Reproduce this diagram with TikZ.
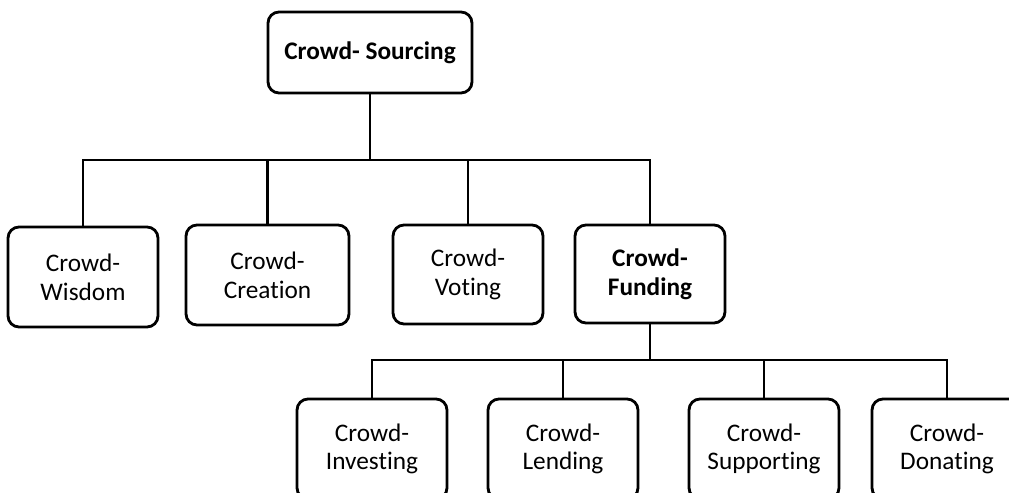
\documentclass[tikz,border=0pt]{standalone}
\usepackage{fontspec}
\setmainfont{Carlito}[Ligatures=NoCommon]
\usepackage{tikz}
\usetikzlibrary{positioning}
\tikzset{
    crowdbox/.style={draw, thick, line width=1.6pt, rounded corners=0.22cm, align=center,
        minimum width=3cm, minimum height=2cm, inner sep=2pt,
        font=\fontsize{14.4}{16.3}\selectfont},
    link/.style={line width=1.6pt}
}

\begin{document}
\begin{tikzpicture}[x=0.02cm, y=-0.02cm]
    \useasboundingbox (0,0) rectangle (1009,493);
    \clip (0,0) rectangle (1009,493);
    % top of the tree
    \node[crowdbox, minimum width=4.08cm, minimum height=1.62cm] (source) at (370,52.5) {\textbf{Crowd- Sourcing}};
    % second row
    \node[crowdbox] (wisdom) at (83,277) {Crowd-\\Wisdom};
    \node[crowdbox, minimum width=3.26cm] (creation) at (267.5,275) {Crowd-\\Creation};
    \node[crowdbox, minimum height=1.98cm] (voting) at (468,274.5) {Crowd-\\Voting};
    \node[crowdbox, minimum height=1.96cm] (funding) at (650,274) {\textbf{Crowd-}\\\textbf{Funding}};
    % third row
    \node[crowdbox] (investing) at (372,449) {Crowd-\\Investing};
    \node[crowdbox] (lending) at (563,449) {Crowd-\\Lending};
    \node[crowdbox] (supporting) at (764,449) {Crowd-\\Supporting};
    \node[crowdbox] (donating) at (947,449) {Crowd-\\Donating};

    \coordinate (bus1) at (370,160);
    \coordinate (bus2) at (650,360);
    \draw[link] (source.south) -- (bus1);
    \foreach \n in {wisdom,creation,voting,funding}
        \draw[link] (bus1) -| (\n.north);
    \draw[link] (funding.south) -- (bus2);
    \foreach \n in {investing,lending,supporting,donating}
        \draw[link] (bus2) -| (\n.north);
\end{tikzpicture}
\end{document}
